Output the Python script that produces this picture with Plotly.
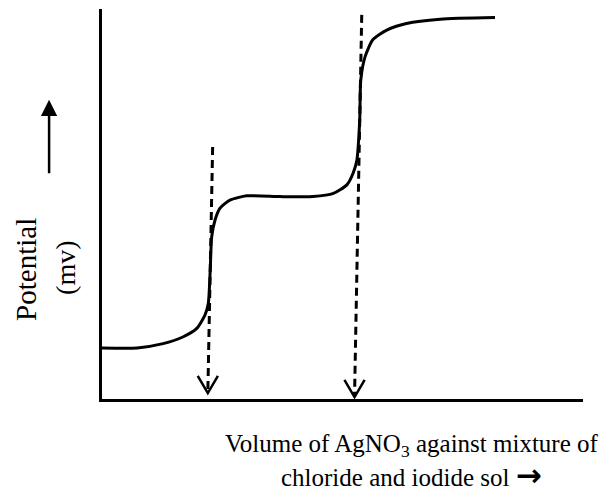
import plotly.graph_objects as go

# ---- data (arbitrary units, axes run 0..100) ----
volume = [0, 7.3, 12.7, 16.8, 19.7, 21.4, 22.1, 22.5, 22.8, 23.5, 24.5, 26.6, 30.1,
          37.0, 43.9, 48.1, 50.9, 52.2, 53.0, 53.4, 53.6, 53.8, 54.7, 56.3, 59.2,
          63.3, 70.3, 81.7]
potential = [13.1, 13.1, 14.2, 15.9, 18.1, 21.5, 24.5, 33.1, 41.6, 45.9, 48.9, 51.0, 52.1,
             51.9, 51.9, 52.7, 54.9, 57.9, 61.3, 67.3, 72.4, 81.8, 87.8, 92.1, 94.6,
             96.3, 97.4, 97.8]

# end points (dashed arrows marking the two equivalence points)
arrow_top_x = [23.0, 54.0]
arrow_top_y = [64.6, 98.5]
arrow_tip_x = [22.0, 52.5]
arrow_tip_y = [1.5, 0.5]

x_label_lines = ["Volume of AgNO<sub>3</sub> against mixture of",
                 "chloride and iodide sol "
                 "<span style=\"font-family:'DejaVu Sans';font-weight:bold;font-size:31px\">→</span>"]
y_label_lines = ["Potential", "(mv)"]

FONT = "Liberation Serif"

fig = go.Figure()

fig.add_trace(go.Scatter(
    x=volume, y=potential, mode="lines",
    line=dict(color="black", width=3, shape="spline", smoothing=0.6),
    hoverinfo="skip", showlegend=False))

HEAD_W, HEAD_H = 2.1, 4.4
for tx, ty, bx, by in zip(arrow_top_x, arrow_top_y, arrow_tip_x, arrow_tip_y):
    fig.add_trace(go.Scatter(
        x=[tx, bx], y=[ty, by], mode="lines",
        line=dict(color="black", width=3, dash="8px,5px"),
        hoverinfo="skip", showlegend=False))
    fig.add_trace(go.Scatter(
        x=[bx - HEAD_W, bx, bx + HEAD_W], y=[by + HEAD_H, by, by + HEAD_H],
        mode="lines", line=dict(color="black", width=2.5),
        hoverinfo="skip", showlegend=False))

# y-axis label with arrow
fig.add_annotation(xref="paper", yref="paper", x=-0.110, y=0.767,
                   ax=0, ay=75, showarrow=True, arrowhead=2, arrowsize=1.3,
                   arrowwidth=2.5, arrowcolor="black", text="")
fig.add_annotation(xref="paper", yref="paper", x=-0.158, y=0.331,
                   xanchor="center", yanchor="middle",
                   text=y_label_lines[0], showarrow=False, textangle=-90,
                   font=dict(family=FONT, size=29, color="black"))
fig.add_annotation(xref="paper", yref="paper", x=-0.075, y=0.336,
                   xanchor="center", yanchor="middle",
                   text=y_label_lines[1], showarrow=False, textangle=-90,
                   font=dict(family=FONT, size=28, color="black"))

# x-axis label
fig.add_annotation(xref="paper", yref="paper", x=0.644, y=-0.118,
                   xanchor="center", yanchor="middle",
                   text=x_label_lines[0], showarrow=False,
                   font=dict(family=FONT, size=25, color="black"))
fig.add_annotation(xref="paper", yref="paper", x=0.644, y=-0.195,
                   xanchor="center", yanchor="middle",
                   text=x_label_lines[1], showarrow=False,
                   font=dict(family=FONT, size=25, color="black"))

fig.update_xaxes(range=[0, 100], showline=True, linecolor="black", linewidth=3,
                 showgrid=False, zeroline=False, showticklabels=False, ticks="")
fig.update_yaxes(range=[0, 100], showline=True, linecolor="black", linewidth=3,
                 showgrid=False, zeroline=False, showticklabels=False, ticks="")

fig.update_layout(width=609, height=498,
                  margin=dict(l=102, r=26, t=9, b=99),
                  paper_bgcolor="white", plot_bgcolor="white",
                  showlegend=False)

fig.write_html("out.html", config={"displayModeBar": False},
               post_script="document.body.style.margin='0';document.body.style.overflow='hidden';")
